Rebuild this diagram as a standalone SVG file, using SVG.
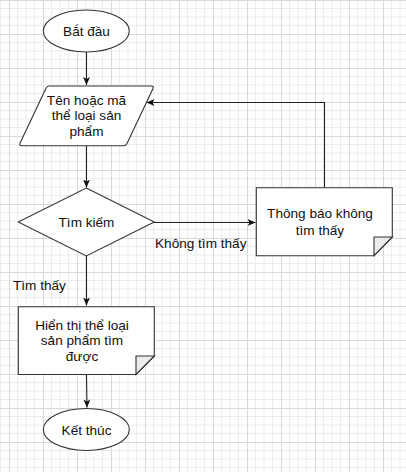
<svg xmlns="http://www.w3.org/2000/svg" width="406" height="472" viewBox="0 0 406 472">
<style>
.shape{fill:#fff;stroke:#333;stroke-width:1.1}
.fold{fill:#ebebeb;stroke:#333;stroke-width:1.1}
.conn{fill:none;stroke:#222;stroke-width:1.1}
text{font-family:"Liberation Sans",Arial,sans-serif;font-size:13.6px;fill:#111;text-anchor:middle}
.lbl{text-anchor:start}
</style>
<defs>
<pattern id="grid" patternUnits="userSpaceOnUse" x="9" y="0" width="34" height="34">
<path d="M8.5 0V34M17 0V34M25.5 0V34M0 8.5H34M0 17H34M0 25.5H34" stroke="#ececec" stroke-width="1" fill="none"/>
<path d="M0.5 0V34M0 0.5H34" stroke="#d9d9d9" stroke-width="1" fill="none"/>
</pattern>
<marker id="arr" markerUnits="userSpaceOnUse" markerWidth="10" markerHeight="8" refX="8" refY="4" orient="auto">
<path d="M0,0.5 L8,4 L0,7.5 L2,4 Z" fill="#111"/>
</marker>
</defs>
<rect width="406" height="472" fill="#fff"/>
<rect width="406" height="472" fill="url(#grid)"/>
<g id="connectors">
<path class="conn" d="M86.5 52V85" marker-end="url(#arr)"/>
<path class="conn" d="M86.5 146V187.5" marker-end="url(#arr)"/>
<path class="conn" d="M86.5 256V305.5" marker-end="url(#arr)"/>
<path class="conn" d="M86.5 374.5L87 407.5" marker-end="url(#arr)"/>
<path class="conn" d="M154 222.5H255.5" marker-end="url(#arr)"/>
<path class="conn" d="M324.5 187.5V102.5H146.5" marker-end="url(#arr)"/>
<text class="lbl" x="155" y="247.5">Không tìm thấy</text>
<text class="lbl" x="13" y="290">Tìm thấy</text>
</g>
<g id="start">
<ellipse class="shape" cx="86.3" cy="31" rx="43" ry="21"/>
<text x="86.5" y="35.8">Bắt đầu</text>
</g>
<g id="input">
<path class="shape" d="M49 86H151.5Q154 86 153 88.5L127 143.5Q126 145.7 123.5 145.7H21.5Q18.8 145.7 20 143.2L46 88.3Q47 86 49 86Z"/>
<text x="86.5" y="104.5">Tên hoặc mã</text>
<text x="86.5" y="120">thể loại sản</text>
<text x="86.5" y="136">phẩm</text>
</g>
<g id="search">
<path class="shape" d="M86.3 188L154.3 222L86.3 256L18.3 222Z"/>
<text x="86.5" y="226.5">Tìm kiếm</text>
</g>
<g id="notfound">
<path class="shape" d="M256.3 187.7H392.3V237L374 255.7H256.3Z"/>
<path class="fold" d="M392.3 237L374 255.7V237Z"/>
<text x="320" y="218">Thông báo không</text>
<text x="320" y="234.5">tìm thấy</text>
</g>
<g id="display">
<path class="shape" d="M18.3 306.7H154.3V356L136 374.5H18.3Z"/>
<path class="fold" d="M154.3 356L136 374.5V356Z"/>
<text x="82" y="329.5">Hiển thị thể loại</text>
<text x="82" y="345">sản phẩm tìm</text>
<text x="82" y="361">được</text>
</g>
<g id="end">
<ellipse class="shape" cx="86.3" cy="429.5" rx="43" ry="21"/>
<text x="86.5" y="434.5">Kết thúc</text>
</g>
</svg>
